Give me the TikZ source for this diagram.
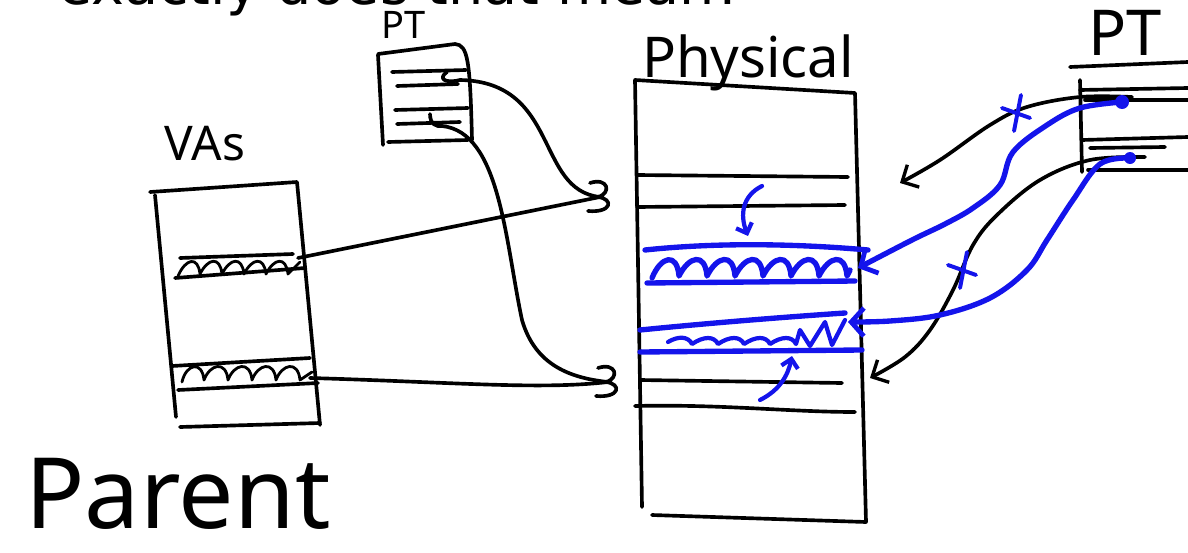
\documentclass[tikz,border=0pt]{standalone}
\usepackage{fontspec}
\usepackage{xcolor}
\usetikzlibrary{arrows.meta, positioning}
\newfontfamily\titlefont{DejaVu Sans}
\newfontfamily\handfont{Noto Sans}
\definecolor{inkblue}{RGB}{20, 20, 235}
\tikzstyle{ink} = [line width=2.6pt, line cap=round, line join=round, draw=black]
\tikzstyle{blueink} = [line width=3.8pt, line cap=round, line join=round, draw=inkblue]
\tikzstyle{hand} = [inner sep=0pt, anchor=base, text=black]
\tikzstyle{barb} = [-{Straight Barb[length=9pt, width=18pt, line width=2.4pt]}]
\tikzstyle{bluebarb} = [-{Straight Barb[length=9pt, width=20pt, line width=3.4pt]}]
\tikzset{
  squig/.pic={\draw [ink] (-10,-14) .. controls (8,-20) and (12,-4) .. (-2,0) .. controls (14,2) and (12,16) .. (-12,14);},
  cross/.pic={\draw [blueink, line width=2.8pt] (-15,-5) -- (13,5) (4,-18) -- (-3,18);}
}

\begin{document}
\begin{tikzpicture}[x=0.025cm, y=-0.025cm]
\useasboundingbox (0,0) rectangle (1188,552);
\clip (0,0) rectangle (1188,552);

% slide title, cut by the top edge
\node (title) [inner sep=0pt, anchor=base west, font=\titlefont\fontsize{39.5}{42}\selectfont] at (58,5) {exactly does that mean?};

% labels
\node (vaslabel) [hand, font=\handfont\fontsize{34}{36}\selectfont] at (205,160) {VAs};
\node (ptlabel) [hand, font=\handfont\fontsize{27}{30}\selectfont] at (404,38) {PT};
\node (physlabel) [hand, font=\handfont\fontsize{40}{42}\selectfont] at (748,77) {Physical};
\node (ptrlabel) [hand, font=\handfont\fontsize{45}{48}\selectfont] at (1125,55) {PT};
\node (parent) [hand, font=\handfont\fontsize{70}{74}\selectfont] at (178,528) {Parent};

% VAs box
\draw [ink] (150,192) -- (297,182) -- (320,425);
\draw [ink] (155,195) -- (176,417);
\draw [ink] (180,427) -- (320,423);
\draw [ink] (180,258) -- (293,254);
\draw [ink] (175,278) -- (305,268);
\draw [ink] (172,366) -- (310,358);
\draw [ink] (178,390) -- (318,383);
\draw [ink, line width=2pt] (178,276) \foreach \x in {180,202,...,268} { .. controls (\x+6,258) and (\x+18,256) .. (\x+20,274) } -- (300,262);
\draw [ink, line width=2pt] (182,382) \foreach \x in {182,206,...,278} { .. controls (\x+4,364) and (\x+20,360) .. (\x+22,380) } -- (312,372);
\coordinate (va1) at (298,258);
\coordinate (va2) at (310,378);

% small PT
\draw [ink] (378,55) -- (383,145);
\draw [ink] (378,54) -- (455,44) .. controls (468,45) and (470,60) .. (472,140);
\draw [ink] (392,72) -- (466,70);
\draw [ink] (397,86) -- (458,84);
\draw [ink] (395,110) -- (468,108);
\draw [ink] (397,124) -- (460,122);
\draw [ink] (388,142) -- (468,140);
\coordinate (pt1) at (460,80);
\coordinate (pt2) at (442,126);
\draw [ink] (447,72) .. controls (438,78) and (444,84) .. (pt1);
\draw [ink] (430,114) .. controls (430,124) and (436,127) .. (pt2);

% Physical memory
\draw [ink] (642,507) -- (635,80) -- (855,93) -- (866,522) -- (652,515);
\draw [ink] (637,175) -- (848,177);
\draw [ink] (637,207) -- (845,205);
\draw [ink] (640,380) -- (842,383);
\draw [ink] (635,406) .. controls (720,404) and (790,412) .. (855,412);
\draw [blueink] (645,250) .. controls (720,242) and (800,244) .. (868,250);
\draw [blueink] (647,283) -- (855,281);
\draw [blueink] (652,278) \foreach \x in {655,683,...,823} { .. controls (\x+6,256) and (\x+22,252) .. (\x+24,276) } -- (850,270);
\draw [blueink] (640,330) .. controls (720,322) and (800,316) .. (845,313);
\draw [blueink] (640,352) -- (862,350);
\draw [blueink, line width=3pt] (668,342) \foreach \x in {670,696,...,774} { .. controls (\x+8,336) and (\x+18,336) .. (\x+22,344) } -- (800,330) -- (810,346) -- (825,322) -- (832,345) -- (845,320);
\coordinate (sq1) at (600,197);
\coordinate (sq2) at (608,382);
\pic at (sq1) {squig};
\pic at (sq2) {squig};

% little blue hints
\draw [blueink, line width=3pt, -{Straight Barb[length=6pt, width=12pt]}] (762,186) .. controls (742,196) and (740,215) .. (748,236);
\draw [blueink, line width=3pt, -{Straight Barb[length=6pt, width=12pt]}] (760,400) .. controls (780,390) and (788,375) .. (792,356);

% mappings of the parent
\draw [ink] (va1) -- (sq1);
\draw [ink] (va2) .. controls (450,382) and (540,390) .. (sq2);
\draw [ink] (pt1) .. controls (560,82) and (535,190) .. (sq1);
\draw [ink] (pt2) .. controls (500,132) and (505,240) .. (522,320) .. controls (535,365) and (570,378) .. (sq2);

% right PT
\draw [ink] (1070,67) -- (1188,62);
\draw [ink] (1080,80) -- (1082,172);
\draw [ink] (1080,90) -- (1188,88);
\draw [ink] (1085,100) -- (1188,100);
\draw [ink] (1082,140) -- (1188,137);
\draw [ink] (1090,148) -- (1165,147);
\draw [ink] (1088,170) -- (1188,170);
\coordinate (rp1) at (1132,97);
\coordinate (rp2) at (1145,157);
\coordinate (bp1) at (1122,102);
\coordinate (bp2) at (1130,158);
\coordinate (phA) at (900,183);
\coordinate (phB) at (870,378);
\coordinate (phC) at (858,268);
\coordinate (phD) at (848,322);

% old child mappings, crossed out
\draw [ink, barb] plot [smooth, tension=0.6] coordinates {(rp1) (1080,97) (1027,107) (990,125) (940,160) (phA)};
\draw [ink, barb] plot [smooth, tension=0.6] coordinates {(rp2) (1090,160) (1040,180) (997,215) (973,245) (953,290) (930,330) (905,357) (phB)};
\pic at (1017,113) {cross};
\pic at (963,270) {cross};

% new child mappings
\fill [inkblue] (bp1) circle (7);
\fill [inkblue] (bp2) circle (6);
\draw [blueink, bluebarb] plot [smooth, tension=0.6] coordinates {(bp1) (1080,108) (1047,125) (1013,152) (1000,185) (973,208) (945,224) (912,240) (phC)};
\draw [blueink, bluebarb] plot [smooth, tension=0.6] coordinates {(bp2) (1100,164) (1073,200) (1047,240) (1027,270) (990,298) (940,315) (890,321) (phD)};

\end{tikzpicture}
\end{document}
